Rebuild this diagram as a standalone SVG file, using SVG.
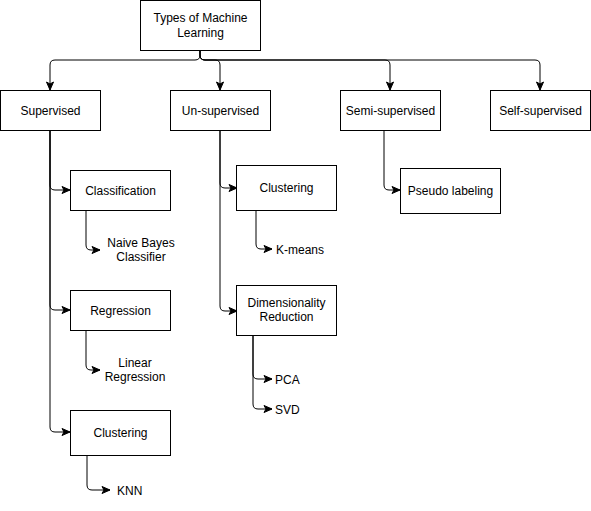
<svg xmlns="http://www.w3.org/2000/svg" width="591" height="511" viewBox="0 0 591 511">
<style>
.box{fill:#fff;stroke:#000;stroke-width:1}
.t{font-family:"Liberation Sans",Arial,sans-serif;font-size:12px;fill:#000;text-anchor:middle}
.l{text-anchor:start}
.e{fill:none;stroke:#000;stroke-width:1}
</style>
<defs>
<marker id="a" markerUnits="userSpaceOnUse" markerWidth="10" markerHeight="10" viewBox="0 0 10 10" refX="9" refY="5" orient="auto">
<path d="M1,1.5 L9,5 L1,8.5 L3,5 z" fill="#000" stroke="#000" stroke-width="1"/>
</marker>
</defs>
<rect width="591" height="511" fill="#fff"/>
<g id="connectors">
<path class="e" marker-end="url(#a)" d="M200,50 V55 Q200,60 195,60 H55 Q50,60 50,65 V90"/>
<path class="e" marker-end="url(#a)" d="M200,50 V55 Q200,60 205,60 H215 Q220,60 220,65 V90"/>
<path class="e" marker-end="url(#a)" d="M200,50 V55 Q200,60 205,60 H385 Q390,60 390,65 V90"/>
<path class="e" marker-end="url(#a)" d="M200,50 V55 Q200,60 205,60 H535 Q540,60 540,65 V90"/>
<path class="e" marker-end="url(#a)" d="M50,130 V185 Q50,190 55,190 H70"/>
<path class="e" marker-end="url(#a)" d="M50,130 V305 Q50,310 55,310 H70"/>
<path class="e" marker-end="url(#a)" d="M50,130 V427 Q50,432 55,432 H70"/>
<path class="e" marker-end="url(#a)" d="M86,210 V245 Q86,250 91,250 H100"/>
<path class="e" marker-end="url(#a)" d="M86,330 V365 Q86,370 91,370 H100"/>
<path class="e" marker-end="url(#a)" d="M87,455 V485 Q87,490 92,490 H110"/>
<path class="e" marker-end="url(#a)" d="M220,130 V183 Q220,188 225,188 H237"/>
<path class="e" marker-end="url(#a)" d="M220,130 V306 Q220,311 225,311 H237"/>
<path class="e" marker-end="url(#a)" d="M256,210 V244 Q256,249 261,249 H272"/>
<path class="e" marker-end="url(#a)" d="M253,335 V374 Q253,379 258,379 H272"/>
<path class="e" marker-end="url(#a)" d="M253,335 V404 Q253,409 258,409 H272"/>
<path class="e" marker-end="url(#a)" d="M384,130 V185 Q384,190 389,190 H400"/>
</g>
<g id="root"><rect class="box" x="140.5" y="0.5" width="120" height="50"/><text class="t" x="200.5" y="22">Types of Machine</text><text class="t" x="200.5" y="37">Learning</text></g>
<g id="supervised"><rect class="box" x="0.5" y="90.5" width="100" height="40"/><text class="t" x="50.5" y="114.5">Supervised</text></g>
<g id="unsupervised"><rect class="box" x="170.5" y="90.5" width="100" height="40"/><text class="t" x="220.5" y="114.5">Un-supervised</text></g>
<g id="semisupervised"><rect class="box" x="340.5" y="90.5" width="100" height="40"/><text class="t" x="390.5" y="114.5">Semi-supervised</text></g>
<g id="selfsupervised"><rect class="box" x="490.5" y="90.5" width="100" height="40"/><text class="t" x="540.5" y="114.5">Self-supervised</text></g>
<g id="classification"><rect class="box" x="70.5" y="170.5" width="100" height="40"/><text class="t" x="120.5" y="194.5">Classification</text></g>
<g id="naivebayes"><text class="t" x="141" y="247">Naive Bayes</text><text class="t" x="141" y="261">Classifier</text></g>
<g id="regression"><rect class="box" x="70.5" y="290.5" width="100" height="40"/><text class="t" x="120.5" y="314.5">Regression</text></g>
<g id="linearregression"><text class="t" x="135" y="367">Linear</text><text class="t" x="135" y="381">Regression</text></g>
<g id="clustering-sup"><rect class="box" x="70.5" y="410.5" width="100" height="45"/><text class="t" x="120.5" y="437">Clustering</text></g>
<g id="knn"><text class="t l" x="117" y="494.5">KNN</text></g>
<g id="clustering-unsup"><rect class="box" x="236.5" y="165.5" width="100" height="45"/><text class="t" x="286.5" y="192">Clustering</text></g>
<g id="kmeans"><text class="t l" x="276" y="253.5">K-means</text></g>
<g id="dimred"><rect class="box" x="236.5" y="285.5" width="100" height="50"/><text class="t" x="286.5" y="307">Dimensionality</text><text class="t" x="286.5" y="321">Reduction</text></g>
<g id="pca"><text class="t l" x="275" y="383.5">PCA</text></g>
<g id="svd"><text class="t l" x="275" y="413.5">SVD</text></g>
<g id="pseudo"><rect class="box" x="400.5" y="168.5" width="100" height="45"/><text class="t" x="450.5" y="194.5">Pseudo labeling</text></g>
</svg>
